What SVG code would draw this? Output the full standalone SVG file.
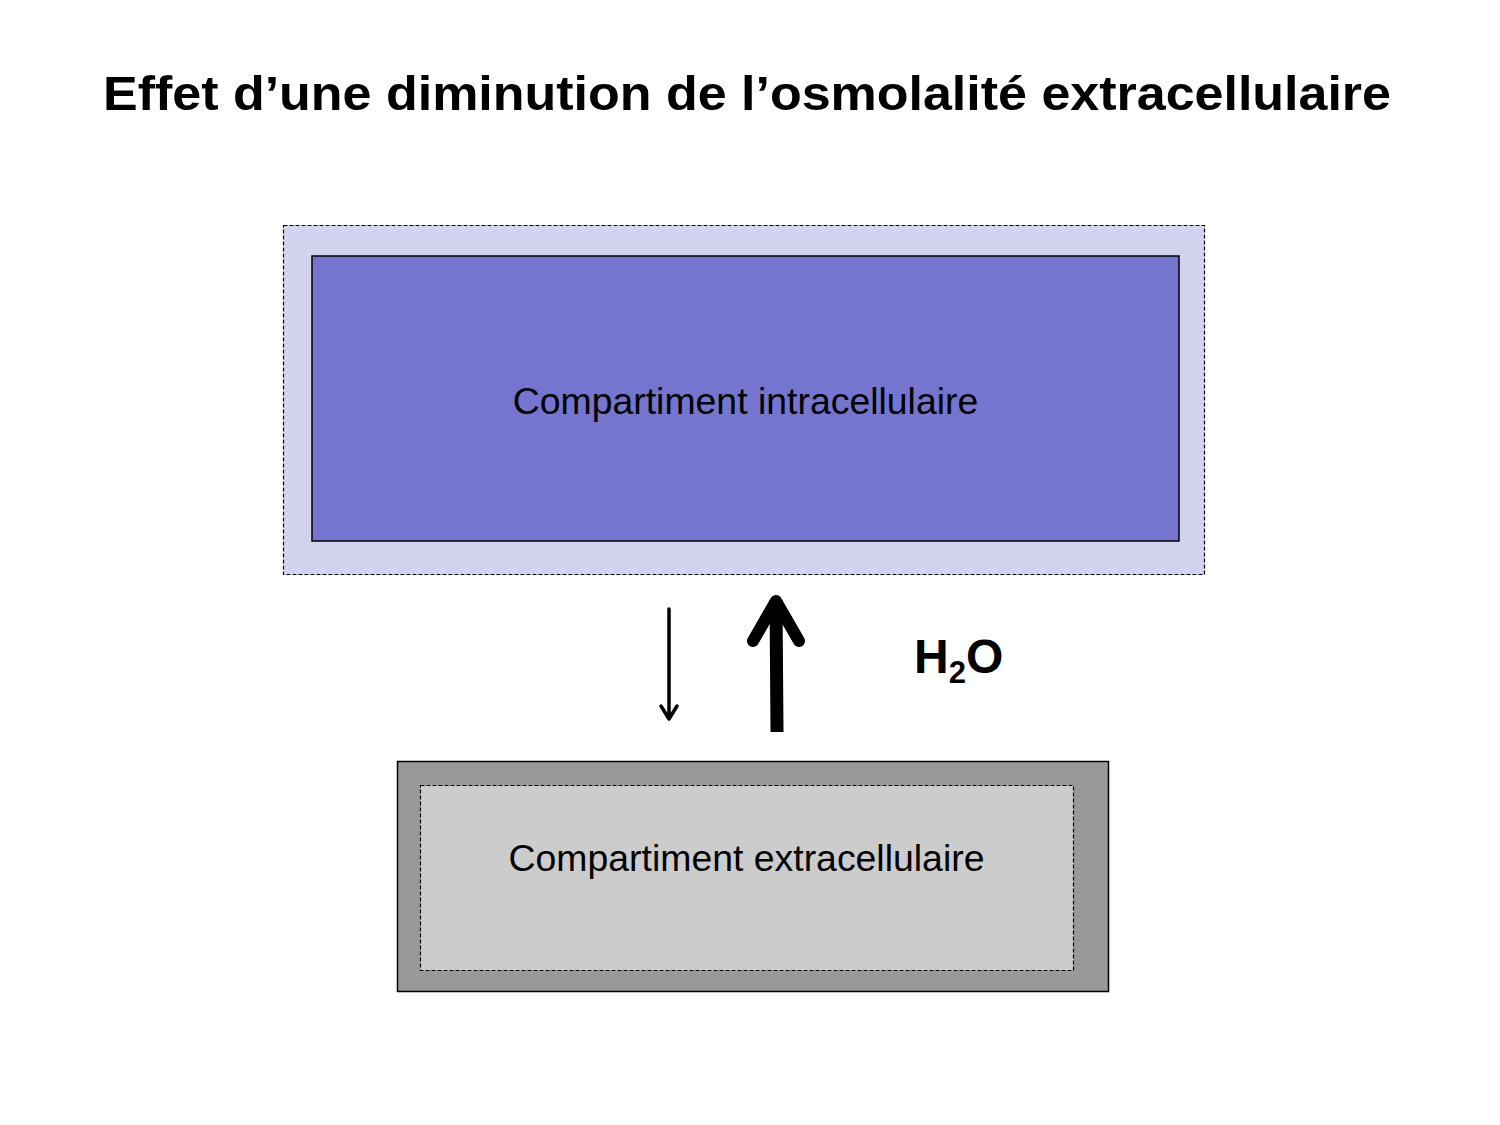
<svg xmlns="http://www.w3.org/2000/svg" width="1500" height="1125" viewBox="0 0 1500 1125">
<style>
.t{font-family:"Liberation Sans",Arial,sans-serif;fill:#000}
.title{font-size:48px;font-weight:bold}
.lbl{font-size:37.4px}
.dash{stroke:#000;stroke-width:1.2;stroke-dasharray:4 2}
.solid{stroke:#000;stroke-width:1.5}
</style>
<rect width="1500" height="1125" fill="#fff"/>
<text class="t title" x="747" y="110" text-anchor="middle" textLength="1288" lengthAdjust="spacingAndGlyphs">Effet d’une diminution de l’osmolalité extracellulaire</text>
<g id="intracellulaire">
<rect x="283.5" y="225.5" width="921" height="349" fill="#d3d3ef" class="dash"/>
<rect x="312" y="256" width="867" height="285" fill="#7575cf" class="solid"/>
<text class="t lbl" x="745.5" y="414" text-anchor="middle">Compartiment intracellulaire</text>
</g>
<g id="extracellulaire">
<rect x="397.5" y="761.5" width="711" height="230" fill="#999" class="solid"/>
<rect x="420.5" y="785.5" width="653" height="185" fill="#ccc" class="dash"/>
<text class="t lbl" x="746.5" y="871" text-anchor="middle">Compartiment extracellulaire</text>
</g>
<g id="connectors" fill="none" stroke="#000" stroke-linecap="round" stroke-linejoin="round">
<path d="M669 609 V719 M661 706 L669 719 L677 706" stroke-width="3.5"/>
<path d="M777 732 L776 600" stroke-width="13" stroke-linecap="butt"/>
<path d="M753 641 L776 601 L799 641" stroke-width="12"/>
</g>
<g id="h2o">
<text class="t" x="914" y="673" font-size="48" font-weight="bold">H<tspan font-size="31" dy="10">2</tspan><tspan dy="-10">O</tspan></text>
</g>
</svg>
